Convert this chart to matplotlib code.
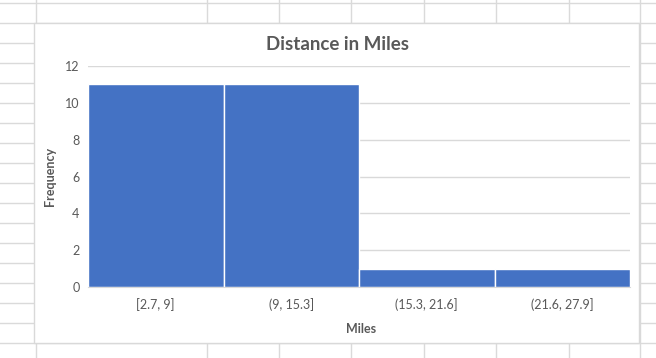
import matplotlib
matplotlib.use("Agg")
import matplotlib.pyplot as plt
from matplotlib.patches import Rectangle
from matplotlib.lines import Line2D

categories = ["[2.7, 9]", "(9, 15.3]", "(15.3, 21.6]", "(21.6, 27.9]"]
frequency = [11, 11, 1, 1]
y_ticks = [0, 2, 4, 6, 8, 10, 12]

W, H = 656, 358
plt.rcParams['font.family'] = ['Lato', 'DejaVu Sans']
fig = plt.figure(figsize=(W / 100, H / 100), dpi=100)

# spreadsheet background (pixel coords, y from top)
bg = fig.add_axes([0, 0, 1, 1])
bg.set_xlim(0, W)
bg.set_ylim(H, 0)
bg.axis('off')
grid_c = '#dadada'
col_x = [35.5, 206.5, 278.5, 351, 423.5, 496, 568.5, 639.5]
for x in col_x:
    bg.add_line(Line2D([x, x], [0, H], color=grid_c, lw=1))
y = 2.7
while y < H:
    bg.add_line(Line2D([0, W], [y, y], color=grid_c, lw=1))
    y += 20
# chart frame
bg.add_patch(Rectangle((34, 22.5), 605, 320.5, facecolor='white',
                       edgecolor='#d9d9d9', lw=1, zorder=5))

ax = fig.add_axes([88 / W, 1 - 287 / H, (630 - 88) / W, (287 - 66) / H])
ax.set_zorder(10)
ax.patch.set_alpha(0)
x = range(len(categories))
ax.bar(x, frequency, width=1.0, color='#4472C4', edgecolor='white',
       linewidth=1, zorder=3)
ax.set_xlim(-0.5, len(categories) - 0.5)
ax.set_ylim(0, 12)
ax.set_yticks(y_ticks)
ax.set_xticks(list(x))
ax.set_xticklabels(categories)
ax.grid(axis='y', color='#d9d9d9', lw=1, zorder=0)
for s in ['top', 'right', 'left']:
    ax.spines[s].set_visible(False)
ax.spines['bottom'].set_color('#d9d9d9')
ax.spines['bottom'].set_zorder(4)
ax.tick_params(axis='both', length=0, labelcolor='#595959', labelsize=9)
ax.tick_params(axis='x', pad=8)
ax.tick_params(axis='y', pad=6)

fig.text(337 / W, 1 - 44 / H, 'Distance in Miles', ha='center', va='center',
         fontsize=13.5, fontweight='bold', color='#595959', zorder=20)
fig.text(361 / W, 1 - 329 / H, 'Miles', ha='center', va='center',
         fontsize=9, fontweight='bold', color='#595959', zorder=20)
fig.text(50 / W, 1 - 176 / H, 'Frequency', ha='center', va='center',
         rotation=90, fontsize=9, fontweight='bold', color='#595959', zorder=20)

fig.savefig('out.png', dpi=100)
